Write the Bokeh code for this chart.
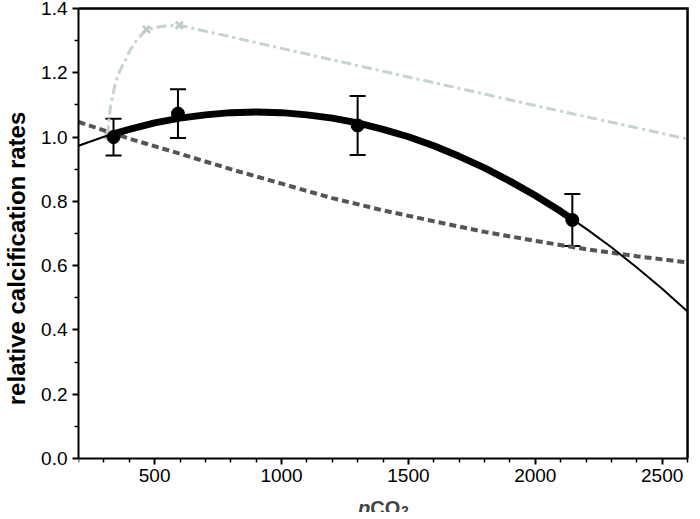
from bokeh.plotting import figure
from bokeh.models import Range1d, FixedTicker, Label, Whisker, ColumnDataSource, TeeHead
from bokeh.embed import file_html
from bokeh.resources import INLINE

# ---- data ----
# measured calcification rates (mean +- error)
obs_x = [338, 592, 1300, 2146]
obs_y = [1.000, 1.073, 1.036, 0.742]
obs_err = [0.057, 0.076, 0.092, 0.081]

# fitted curve (black)
fit_x = [200, 300, 338, 400, 500, 600, 700, 800, 900, 1000, 1100, 1200, 1300, 1400,
         1500, 1600, 1700, 1800, 1900, 2000, 2100, 2146, 2200, 2300, 2400, 2500, 2600]
fit_y = [0.973, 1.001, 1.010, 1.024, 1.044, 1.059, 1.069, 1.076, 1.078, 1.076, 1.069,
         1.059, 1.044, 1.024, 1.001, 0.973, 0.940, 0.904, 0.863, 0.818, 0.769, 0.744,
         0.715, 0.657, 0.594, 0.528, 0.457]

# dark dashed curve
dash_x = [200, 400, 600, 800, 1000, 1200, 1400, 1600, 1800, 2000, 2200, 2400, 2600]
dash_y = [1.047, 0.995, 0.948, 0.900, 0.855, 0.810, 0.772, 0.738, 0.705, 0.677, 0.651, 0.629, 0.610]

# light dash-dot curve and its x markers
light_x = [316, 318, 324, 335, 345, 362, 384, 405, 428, 450, 468, 530, 597, 1000, 1500, 2000, 2600]
light_y = [1.005, 1.040, 1.083, 1.130, 1.167, 1.205, 1.239, 1.273, 1.300, 1.320, 1.335,
           1.345, 1.348, 1.276, 1.187, 1.098, 0.994]
mark_x = [316, 468, 597]
mark_y = [1.005, 1.335, 1.348]

x_ticks = [500, 1000, 1500, 2000, 2500]
x_minor = [200, 300, 400, 600, 700, 800, 900, 1100, 1200, 1300, 1400, 1600, 1700, 1800,
           1900, 2100, 2200, 2300, 2400, 2600]
y_ticks = [0.0, 0.2, 0.4, 0.6, 0.8, 1.0, 1.2, 1.4]
y_tick_labels = ["0.0", "0.2", "0.4", "0.6", "0.8", "1.0", "1.2", "1.4"]
y_minor = [0.1, 0.3, 0.5, 0.7, 0.9, 1.1, 1.3]

# plotted data box, and the slightly larger visible ranges around it
X_MIN, X_MAX = 200, 2600
Y_MIN, Y_MAX = 0.0, 1.4
X_VIEW_MAX = 2611.7   # small room right of the box
Y_VIEW_MAX = 1.4125   # small room above the box
Y_VIEW_MIN = -0.1683  # room below the axis for the x-axis title

FONT = "Liberation Sans"

p = figure(width=690, height=512,
           x_range=Range1d(X_MIN, X_VIEW_MAX), y_range=Range1d(Y_VIEW_MIN, Y_VIEW_MAX),
           output_backend="svg", toolbar_location=None,
           min_border_left=74, min_border_right=0, min_border_top=4, min_border_bottom=0)
p.xgrid.visible = False
p.ygrid.visible = False
p.outline_line_color = None
p.background_fill_color = "white"
p.border_fill_color = "white"

xa = p.xaxis[0]
ya = p.yaxis[0]
xa.fixed_location = Y_MIN
xa.bounds = (X_MIN, X_MAX)
ya.bounds = (Y_MIN, Y_MAX)

for ax in (xa, ya):
    ax.axis_line_width = 2
    ax.major_tick_line_width = 2
    ax.minor_tick_line_width = 1.5
    ax.major_tick_out = 6
    ax.major_tick_in = 0
    ax.minor_tick_out = 4
    ax.minor_tick_in = 0
    ax.major_label_text_font = FONT
    ax.major_label_text_font_size = "19px"
    ax.major_label_text_color = "black"
    ax.major_label_standoff = 5

xa.ticker = FixedTicker(ticks=x_ticks, minor_ticks=x_minor)
ya.ticker = FixedTicker(ticks=y_ticks, minor_ticks=y_minor)
ya.major_label_overrides = {t: l for t, l in zip(y_ticks, y_tick_labels)}

ya.axis_label = "relative calcification rates"
ya.axis_label_text_font = FONT
ya.axis_label_text_font_size = "24px"
ya.axis_label_text_font_style = "bold"
ya.axis_label_text_color = "black"
ya.axis_label_standoff = 8

# box lines on the top and right of the data area (one polyline)
p.line([X_MIN, X_MAX, X_MAX], [Y_MAX, Y_MAX, Y_MIN], line_color="black", line_width=2.5,
       line_join="miter")

# light dash-dot curve
p.line(light_x, light_y, line_color="#c6d3d1", line_width=3, line_dash="10 4 3 4")
p.scatter(mark_x, mark_y, marker="x", size=10, line_color="#bfcdca", line_width=3)

# dark dashed curve
p.line(dash_x, dash_y, line_color="#555555", line_width=4, line_dash="7 4")

# fitted curve: thin everywhere, thick between first and last measurement
p.line(fit_x, fit_y, line_color="black", line_width=2)
thick = [(x, y) for x, y in zip(fit_x, fit_y) if obs_x[0] <= x <= obs_x[-1]]
p.line([t[0] for t in thick], [t[1] for t in thick], line_color="black", line_width=7,
       line_cap="round")

# error bars and points
src = ColumnDataSource(dict(x=obs_x, y=obs_y,
                            lo=[y - e for y, e in zip(obs_y, obs_err)],
                            hi=[y + e for y, e in zip(obs_y, obs_err)]))
w = Whisker(source=src, base="x", lower="lo", upper="hi", line_width=2, line_color="black",
            upper_head=TeeHead(size=16, line_width=2, line_color="black"),
            lower_head=TeeHead(size=16, line_width=2, line_color="black"))
p.add_layout(w)
p.scatter("x", "y", source=src, size=13, color="black")

# x axis title: italic p, CO, subscript 2
x_mid = (X_MIN + X_MAX) / 2
xl_y = -0.153
p.add_layout(Label(x=x_mid, y=xl_y, x_offset=-25, text="p", text_font=FONT,
                   text_font_size="20px", text_font_style="bold italic",
                   text_align="left", text_baseline="alphabetic"))
p.add_layout(Label(x=x_mid, y=xl_y, x_offset=-12.8, text="CO", text_font=FONT,
                   text_font_size="20px", text_font_style="bold",
                   text_align="left", text_baseline="alphabetic"))
p.add_layout(Label(x=x_mid, y=xl_y - 0.011, x_offset=18, text="2", text_font=FONT,
                   text_font_size="14px", text_font_style="bold",
                   text_align="left", text_baseline="alphabetic"))

open("out.html", "w").write(file_html(p, INLINE))
